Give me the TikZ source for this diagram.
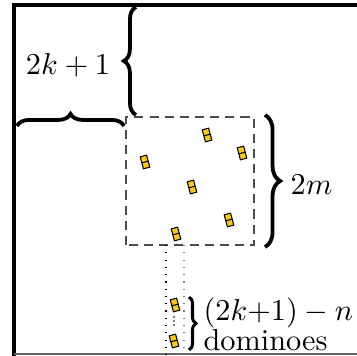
\documentclass[tikz,border=0pt]{standalone}
\usetikzlibrary{decorations.pathreplacing}
\definecolor{dominoyellow}{RGB}{247,200,30}

\begin{document}
\begin{tikzpicture}[
            x=0.33pt, y=0.33pt,
            font=\normalsize,
            wall/.style={line width=1.6pt, line cap=rect},
            region/.style={draw=black!70, dash pattern=on 3pt off 2pt, line width=0.4pt},
            strip/.style={dotted, line width=0.4pt},
            bracelabel/.style={decorate, decoration={brace, amplitude=#1}, line width=1.25pt},
            bracelabel/.default=4pt,
            domino/.pic={
                \draw[fill=dominoyellow, line width=0.35pt] (-3.3,-6.2) rectangle (3.3,6.2);
                \draw[line width=0.35pt] (-3.3,0) -- (3.3,0);
            }
        ]
            \useasboundingbox (0,0) rectangle (357,356);

            % outer board
            \coordinate (bl) at (14,0);
            \coordinate (tl) at (14,351);
            \coordinate (tr) at (357,351);
            \draw[wall] (bl) -- (tl) -- (tr);
            \draw[black!60, line width=0.4pt] (14,2) -- (357,2);

            % dashed square
            \coordinate (sqsw) at (126,111);
            \coordinate (sqne) at (254,239);
            \draw[region] (sqsw) rectangle (sqne);

            % column below the square
            \coordinate (colw) at (166,111);
            \coordinate (cole) at (184,111);
            \draw[strip] (colw) -- (166,0);
            \draw[strip, black!50] (cole) -- (184,0);

            % dominoes
            \foreach \px/\py in {207/221, 242/203, 145/194, 192/169, 229/136, 176/122, 175/51, 174/15}
                \pic[rotate=15] at (\px,\py) {domino};
            \foreach \py in {39,35,31}
                \fill (174,\py) circle (0.8);

            % braces and labels
            \draw[bracelabel] (136,241) -- (136,349);
            \node (klabel) at (68,291) {$2k+1$};
            \draw[bracelabel] (17,230) -- (124,230);
            \draw[bracelabel=5pt] (265,241) -- (265,109);
            \node[anchor=west, inner sep=1pt] (mlabel) at (287,171) {$2m$};
            \draw[bracelabel=2.3pt, line width=1pt] (189,59) -- (189,6);
            \node[anchor=west, inner sep=1pt] (nlabel) at (200,43) {$(2k{+}1)-n$};
            \node[anchor=west, inner sep=1pt] (dlabel) at (200,16) {dominoes};
        \end{tikzpicture}
\end{document}
